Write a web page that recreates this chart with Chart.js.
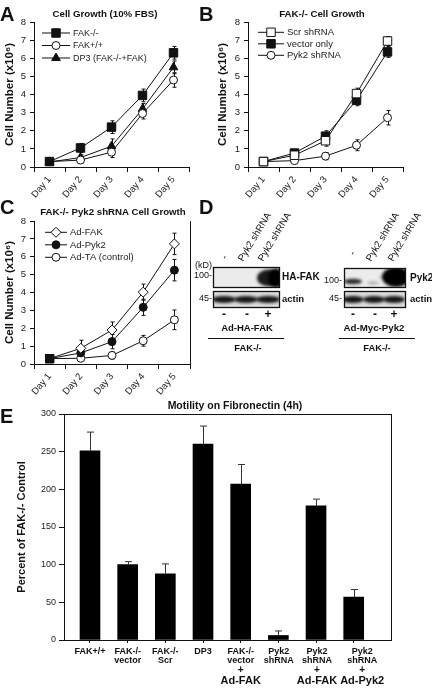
<!DOCTYPE html>
<html>
<head>
<meta charset="utf-8">
<script src="https://cdn.jsdelivr.net/npm/chart.js@4.4.1/dist/chart.umd.min.js"></script>
<style>
  html, body { margin: 0; padding: 0; background: #fff; }
  body { width: 432px; height: 689px; position: relative; overflow: hidden; font-family: "Liberation Sans", Arial, sans-serif; }
  canvas { position: absolute; }
  .t { position: absolute; font-weight: bold; color: #111; white-space: nowrap; line-height: 1; }
  .letter { font-size: 20px; transform: translateY(-50%); }
  .ttl { font-size: 9.7px; transform: translate(-50%, -50%); }
</style>
</head>
<body>
<canvas id="chartA" width="216" height="200" style="left:0;top:0"></canvas>
<canvas id="chartB" width="216" height="200" style="left:216px;top:0"></canvas>
<canvas id="chartC" width="216" height="200" style="left:0;top:200px"></canvas>
<canvas id="blots" width="242" height="160" style="left:190px;top:200px"></canvas>
<canvas id="chartE" width="432" height="293" style="left:0;top:396px"></canvas>

<div class="t letter" style="left:0;top:13.5px">A</div>
<div class="t letter" style="left:199px;top:13.5px">B</div>
<div class="t letter" style="left:0;top:207px">C</div>
<div class="t letter" style="left:199px;top:207px">D</div>
<div class="t letter" style="left:0;top:415.5px">E</div>
<div class="t ttl" style="left:105px;top:14px">Cell Growth (10% FBS)</div>
<div class="t ttl" style="left:322px;top:14px">FAK-/- Cell Growth</div>
<div class="t ttl" style="left:113px;top:212px">FAK-/- Pyk2 shRNA Cell Growth</div>
<div class="t ttl" style="left:235px;top:405px;font-size:10.5px">Motility on Fibronectin (4h)</div>

<script>
const days = ["Day 1", "Day 2", "Day 3", "Day 4", "Day 5"];

// A - cell growth in 10% FBS (x10^6 cells)
const fakNull = [0.3, 1.05, 2.2, 3.95, 6.3];
const fakNullErr = [0, 0.25, 0.35, 0.35, 0.35];
const fakWt = [0.3, 0.38, 0.82, 2.95, 4.8];
const fakWtErr = [0, 0.1, 0.3, 0.3, 0.4];
const dp3 = [0.28, 0.52, 1.15, 3.2, 5.5];
const dp3Err = [0, 0.15, 0.4, 0.3, 0.35];

// B - FAK-/- cell growth
const scrSh = [0.3, 0.65, 1.45, 4.05, 6.95];
const scrShErr = [0, 0.1, 0.3, 0.3, 0.25];
const vectorOnly = [0.3, 0.77, 1.7, 3.68, 6.35];
const vectorOnlyErr = [0, 0.1, 0.3, 0.3, 0.3];
const pyk2Sh = [0.3, 0.35, 0.6, 1.2, 2.72];
const pyk2ShErr = [0, 0.05, 0.2, 0.3, 0.4];

// C - FAK-/- Pyk2 shRNA cell growth
const adFak = [0.3, 0.88, 1.9, 4.02, 6.72];
const adFakErr = [0, 0.45, 0.45, 0.45, 0.6];
const adPyk2 = [0.3, 0.62, 1.25, 3.17, 5.25];
const adPyk2Err = [0, 0.2, 0.4, 0.45, 0.6];
const adTa = [0.3, 0.32, 0.48, 1.3, 2.47];
const adTaErr = [0, 0.1, 0.2, 0.3, 0.55];

// E - motility on fibronectin, percent of FAK-/- control
const motilityLabels = [
  ["FAK+/+"],
  ["FAK-/-", "vector"],
  ["FAK-/-", "Scr"],
  ["DP3"],
  ["FAK-/-", "vector", "+", "Ad-FAK"],
  ["Pyk2", "shRNA"],
  ["Pyk2", "shRNA", "+", "Ad-FAK"],
  ["Pyk2", "shRNA", "+", "Ad-Pyk2"]
];
const motility = [251, 100, 88, 260, 207, 6, 178, 57];
const motilityErr = [25, 4, 13, 24, 26, 6, 9, 10];
const motilityTicks = [0, 50, 100, 150, 200, 250, 300];

const FONT = '"Liberation Sans", Arial, sans-serif';
Chart.defaults.font.family = FONT;
Chart.defaults.color = "#222";

// error bars (both ways for growth curves, up only for bars)
function drawErrors(chart, o) {
  const { ctx, scales: { y } } = chart;
  ctx.save();
  ctx.strokeStyle = o.color || "#111";
  ctx.lineWidth = 1;
  chart.data.datasets.forEach((ds, i) => {
    if (!ds.errors) return;
    chart.getDatasetMeta(i).data.forEach((el, j) => {
      const e = ds.errors[j];
      if (!e) return;
      const v = typeof ds.data[j] === "object" ? ds.data[j].y : ds.data[j];
      const top = y.getPixelForValue(v + e);
      const bot = y.getPixelForValue(o.upOnly ? v : v - e);
      const x = Math.round(el.x) + 0.5;
      ctx.beginPath();
      ctx.moveTo(x, top); ctx.lineTo(x, bot);
      ctx.moveTo(x - o.cap, top); ctx.lineTo(x + o.cap, top);
      if (!o.upOnly) { ctx.moveTo(x - o.cap, bot); ctx.lineTo(x + o.cap, bot); }
      ctx.stroke();
    });
  });
  ctx.restore();
}

const errorBars = {
  id: "errorBars",
  beforeDatasetsDraw(chart, args, o) { if (!o.above) drawErrors(chart, o); },
  afterDatasetsDraw(chart, args, o) { if (o.above) drawErrors(chart, o); }
};

// legend drawn as line + marker + text inside the plot
const lineLegend = {
  id: "lineLegend",
  afterDatasetsDraw(chart, args, o) {
    if (o.left === undefined) return;
    const { ctx, chartArea: a } = chart;
    ctx.save();
    chart.data.datasets.forEach((ds, i) => {
      const y = a.top + o.top + i * o.dy;
      const x0 = a.left + o.left;
      ctx.strokeStyle = "#111";
      ctx.lineWidth = 1;
      ctx.beginPath(); ctx.moveTo(x0, y); ctx.lineTo(x0 + o.len, y); ctx.stroke();
      const m = ds.legendPoint;
      ctx.fillStyle = m.fill;
      Chart.helpers.drawPoint(ctx, { pointStyle: m.style, radius: m.radius, rotation: 0, borderWidth: 1 }, x0 + o.len / 2, y);
      ctx.fillStyle = "#222";
      ctx.font = o.size + "px " + FONT;
      ctx.textBaseline = "middle";
      ctx.fillText(ds.label, x0 + o.len + 3, y + 0.5);
    });
    ctx.restore();
  }
};

// extra frame sides
const frame = {
  id: "frame",
  afterDraw(chart, args, o) {
    const { ctx, chartArea: a } = chart;
    ctx.save();
    ctx.strokeStyle = "#111";
    ctx.lineWidth = 1;
    ctx.beginPath();
    if (o.top) { ctx.moveTo(a.left, a.top + 0.5); ctx.lineTo(a.right, a.top + 0.5); }
    if (o.right) { ctx.moveTo(Math.round(a.right) + 0.5, a.top); ctx.lineTo(Math.round(a.right) + 0.5, a.bottom); }
    ctx.stroke();
    ctx.restore();
  }
};

// multi-line category labels under the bars, pushed right if the big lines collide
const catLabels = {
  id: "catLabels",
  afterDraw(chart, args, o) {
    if (!o.labels) return;
    const { ctx, chartArea: a, scales: { x } } = chart;
    const fontFor = t => "bold " + (t.startsWith("Ad-") ? 11 : t === "+" ? 10 : 9) + "px " + FONT;
    ctx.save();
    ctx.fillStyle = "#111";
    ctx.textAlign = "center";
    ctx.textBaseline = "middle";
    let lastRight = -Infinity;
    o.labels.forEach((lines, i) => {
      let cx = x.getPixelForValue(i + 1);
      let half = 0;
      lines.forEach(t => { ctx.font = fontFor(t); half = Math.max(half, ctx.measureText(t).width / 2); });
      if (cx - half < lastRight + 3) cx = lastRight + 3 + half;
      lastRight = cx + half;
      let y = a.bottom + 12;
      lines.forEach((t, j) => {
        if (j > 0) y += t.startsWith("Ad-") ? 11 : 9;
        ctx.font = fontFor(t);
        ctx.fillText(t, cx, y);
      });
    });
    ctx.restore();
  }
};

function series(label, data, errors, style, fill, radius) {
  return {
    label, data, errors,
    borderColor: "#111", borderWidth: 1, tension: 0,
    pointStyle: style, pointRadius: radius, pointBackgroundColor: fill,
    pointBorderColor: "#111", pointBorderWidth: 1,
    legendPoint: { style, fill, radius }
  };
}

function growthChart(id, datasets, cfg) {
  return new Chart(document.getElementById(id), {
    type: "line",
    data: { labels: days, datasets },
    options: {
      responsive: false,
      animation: false,
      devicePixelRatio: 1,
      layout: { padding: { top: cfg.top, right: cfg.right, left: 0, bottom: 0 } },
      plugins: {
        legend: { display: false },
        tooltip: { enabled: false },
        lineLegend: cfg.legend,
        errorBars: { cap: 2 },
        frame: { right: cfg.frameRight }
      },
      scales: {
        x: {
          offset: true,
          grid: { offset: true, drawOnChartArea: false, tickLength: 5, color: "#111" },
          border: { color: "#111" },
          ticks: { autoSkip: false, minRotation: 50, maxRotation: 50, padding: 2, font: { size: 9.5 } },
          afterFit: s => { s.height = cfg.xh; }
        },
        y: {
          min: 0,
          max: 8,
          grid: { drawOnChartArea: false, tickLength: 4, color: "#111" },
          border: { color: "#111" },
          ticks: { stepSize: 1, padding: 4, font: { size: 9.5 } },
          title: {
            display: true,
            text: "Cell Number (x10\u2076)",
            color: "#111",
            font: { size: 11.5, weight: "bold" },
            padding: { top: cfg.titlePad, bottom: 0 }
          },
          afterFit: s => { s.width = cfg.yw; }
        }
      }
    },
    plugins: [errorBars, lineLegend, frame]
  });
}

growthChart("chartA", [
  series("FAK-/-", fakNull, fakNullErr, "rect", "#111", 6),
  series("FAK+/+", fakWt, fakWtErr, "circle", "#fff", 4),
  series("DP3 (FAK-/-+FAK)", dp3, dp3Err, "triangle", "#111", 5)
], { top: 22, right: 27, xh: 33, yw: 34, titlePad: 3, frameRight: false,
     legend: { left: 8, top: 11, dy: 12.5, len: 28, size: 9 } });

growthChart("chartB", [
  series("Scr shRNA", scrSh, scrShErr, "rect", "#fff", 6),
  series("vector only", vectorOnly, vectorOnlyErr, "rect", "#111", 6),
  series("Pyk2 shRNA", pyk2Sh, pyk2ShErr, "circle", "#fff", 4)
], { top: 22, right: 29, xh: 33, yw: 32, titlePad: 0, frameRight: false,
     legend: { left: 10, top: 10.3, dy: 11.5, len: 26, size: 9.5 } });

// in C the shared day-1 point is a filled square
const cSets = [
  series("Ad-FAK", adFak, adFakErr, "rectRot", "#fff", 5),
  series("Ad-Pyk2", adPyk2, adPyk2Err, "circle", "#111", 4),
  series("Ad-TA (control)", adTa, adTaErr, "circle", "#fff", 4)
];
cSets.forEach(ds => {
  const st = ds.pointStyle, bg = ds.pointBackgroundColor, r = ds.pointRadius;
  ds.pointStyle = c => c.dataIndex === 0 ? "rect" : st;
  ds.pointBackgroundColor = c => c.dataIndex === 0 ? "#111" : bg;
  ds.pointRadius = c => c.dataIndex === 0 ? 5.8 : r;
});
growthChart("chartC", cSets,
  { top: 21, right: 26, xh: 36, yw: 34, titlePad: 3, frameRight: true,
    legend: { left: 11, top: 11.3, dy: 12.5, len: 22, size: 9.5 } });

new Chart(document.getElementById("chartE"), {
  type: "bar",
  data: {
    datasets: [{
      data: motility.map((v, i) => ({ x: i + 1, y: v })),
      errors: motilityErr,
      backgroundColor: "#000",
      barThickness: 20
    }]
  },
  options: {
    responsive: false,
    animation: false,
    devicePixelRatio: 1,
    layout: { padding: { top: 18, right: 41, left: 11, bottom: 0 } },
    plugins: {
      legend: { display: false },
      tooltip: { enabled: false },
      errorBars: { above: true, upOnly: true, cap: 3.5, color: "#333" },
      frame: { top: true, right: true },
      catLabels: { labels: motilityLabels }
    },
    scales: {
      x: {
        type: "linear",
        offset: false,
        min: 0.31,
        max: 8.99,
        afterBuildTicks: s => { s.ticks = motility.map((v, i) => ({ value: i + 1 })); },
        ticks: { display: false },
        grid: { offset: false, drawOnChartArea: false, tickLength: 3, color: "#111" },
        border: { color: "#111" },
        afterFit: s => { s.height = 49; }
      },
      y: {
        min: 0,
        max: 300,
        afterBuildTicks: s => { s.ticks = motilityTicks.map(v => ({ value: v })); },
        grid: { drawOnChartArea: false, tickLength: 5, color: "#111" },
        border: { color: "#111" },
        ticks: { padding: 3, font: { size: 9 } },
        title: {
          display: true,
          text: "Percent of FAK-/- Control",
          color: "#111",
          font: { size: 11, weight: "bold" },
          padding: { top: 4, bottom: 0 }
        },
        afterFit: s => { s.width = 53; }
      }
    }
  },
  plugins: [errorBars, frame, catLabels]
});

// D - western blots (image panel, drawn by hand)
(function () {
  const ctx = document.getElementById("blots").getContext("2d");
  ctx.translate(-190, -200);

  function blot(x, y, w, h, bg, bands) {
    ctx.save();
    ctx.beginPath(); ctx.rect(x, y, w, h); ctx.clip();
    ctx.fillStyle = bg; ctx.fillRect(x, y, w, h);
    ctx.filter = "blur(1.5px)";
    bands.forEach(b => {
      ctx.fillStyle = b[4];
      ctx.beginPath(); ctx.ellipse(b[0], b[1], b[2], b[3], 0, 0, Math.PI * 2); ctx.fill();
    });
    ctx.restore();
    ctx.strokeStyle = "#111"; ctx.lineWidth = 1.3;
    ctx.strokeRect(x + 0.5, y + 0.5, w, h);
  }
  function text(t, x, y, size, bold, align) {
    ctx.font = (bold ? "bold " : "") + size + "px " + FONT;
    ctx.textAlign = align || "left";
    ctx.textBaseline = "middle";
    ctx.fillStyle = "#111";
    ctx.fillText(t, x, y);
  }
  function rot(t, x, y) {
    ctx.save();
    ctx.translate(x, y); ctx.rotate(-59 * Math.PI / 180);
    ctx.font = "9.7px " + FONT; ctx.textAlign = "left"; ctx.textBaseline = "alphabetic";
    ctx.fillStyle = "#111"; ctx.fillText(t, 0, 0);
    ctx.restore();
  }

  // left blot: Ad-HA-FAK
  blot(213, 267, 66, 20, "#ebebeb", [[269, 278, 12, 8.5, "#1a1a1a"], [276, 278, 8, 9.5, "#000"]]);
  blot(213, 291, 66, 16, "#dcdcdc", [[224, 299.5, 12, 3.4, "#141414"], [246, 299.5, 12, 3.4, "#141414"], [268, 299.5, 12, 3.4, "#141414"]]);
  text("(kD)", 212, 266, 9, false, "right");
  text("100-", 212, 276, 9, false, "right");
  text("45-", 212, 299, 9, false, "right");
  text("HA-FAK", 282, 277, 10, true);
  text("actin", 282, 299.5, 9.5, true);
  text("-", 224, 315, 12, true, "center");
  text("-", 247, 315, 12, true, "center");
  text("+", 268, 315, 12, true, "center");
  text("Ad-HA-FAK", 247, 328, 9.5, true, "center");
  text("FAK-/-", 248, 348, 9.3, true, "center");
  rot("-", 226, 260);
  rot("Pyk2 shRNA", 243, 262);
  rot("Pyk2 shRNA", 263, 262);

  // right blot: Ad-Myc-Pyk2
  blot(344, 268, 61, 19, "#ececec", [[353, 281.5, 9, 2.8, "#2a2a2a"], [373, 283, 6, 1.5, "#a8a8a8"], [383, 277, 5, 1, "#bbbbbb"], [396, 277, 14, 10, "#000"]]);
  blot(344, 291, 61, 16, "#dcdcdc", [[353, 299.5, 11, 3.4, "#141414"], [374, 299.5, 11, 3.4, "#141414"], [394, 299.5, 11, 3.4, "#141414"]]);
  text("100-", 342, 281, 9, false, "right");
  text("45-", 342, 299, 9, false, "right");
  text("Pyk2", 410, 278, 10, true);
  text("actin", 410, 299.5, 9.5, true);
  text("-", 353, 315, 12, true, "center");
  text("-", 375, 315, 12, true, "center");
  text("+", 394, 315, 12, true, "center");
  text("Ad-Myc-Pyk2", 374, 328, 9.7, true, "center");
  text("FAK-/-", 377, 348, 9.3, true, "center");
  rot("-", 354, 256);
  rot("Pyk2 shRNA", 371, 262);
  rot("Pyk2 shRNA", 393, 262);

  ctx.strokeStyle = "#111"; ctx.lineWidth = 1;
  ctx.beginPath();
  ctx.moveTo(208, 338.5); ctx.lineTo(284, 338.5);
  ctx.moveTo(339, 338.5); ctx.lineTo(415, 338.5);
  ctx.stroke();
})();
</script>
</body>
</html>
